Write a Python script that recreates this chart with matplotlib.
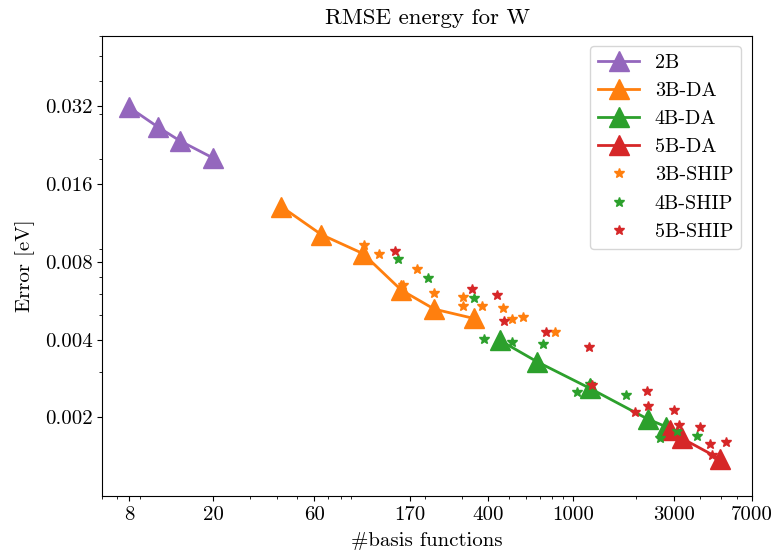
import numpy as np
import matplotlib
matplotlib.use('Agg')
import matplotlib.pyplot as plt
from matplotlib.ticker import NullFormatter

# Fonte parecida com LaTeX (Computer Modern)
plt.rcParams['font.family'] = ['cmr10', 'DejaVu Serif']
plt.rcParams['mathtext.fontset'] = 'cm'
plt.rcParams['axes.formatter.use_mathtext'] = True

# Dados
n_2b = [8, 11, 14, 20]
err_2b = [0.0318, 0.0266, 0.0235, 0.0202]

n_3b_da = [42, 65, 102, 155, 222, 342]
err_3b_da = [0.0131, 0.0102, 0.00862, 0.00622, 0.00525, 0.00483]

n_4b_da = [454, 681, 1208, 2264, 2763]
err_4b_da = [0.00397, 0.00328, 0.00259, 0.00197, 0.00184]

n_5b_da = [2885, 3279, 4974]
err_5b_da = [0.00179, 0.00166, 0.00138]

n_3b_ship = [103, 122, 183, 158, 222, 302, 302, 374, 467, 519, 585, 826]
err_3b_ship = [0.00934, 0.00862, 0.00754, 0.0065, 0.00607, 0.00586,
               0.00538, 0.00538, 0.00532, 0.00479, 0.00488, 0.00427]

n_4b_ship = [150, 208, 340, 379, 519, 727, 1049, 1208, 1782, 2588, 3097, 3885]
err_4b_ship = [0.00819, 0.00696, 0.00579, 0.00404, 0.00392, 0.00384,
               0.00251, 0.0027, 0.00245, 0.00167, 0.00177, 0.00169]

n_5b_ship = [145, 335, 438, 475, 749, 1195, 1239, 2235, 2271, 1972,
             3000, 3193, 4014, 4475, 5307, 4544]
err_5b_ship = [0.00884, 0.00627, 0.00595, 0.00474, 0.00427, 0.00375,
               0.00267, 0.00253, 0.00221, 0.00209, 0.00213, 0.00187,
               0.00184, 0.00158, 0.00160, 0.00143]

x_ticks = [8, 20, 60, 170, 400, 1000, 3000, 7000]
y_ticks = [0.002, 0.004, 0.008, 0.016, 0.032]

fig = plt.figure(figsize=(7.73, 5.56), dpi=100)
ax = fig.add_axes([0.1326, 0.1079, 0.8396, 0.8281])

# Curvas DA (triângulos ligados por linhas)
tri = dict(marker='^', markersize=14.5, linewidth=2)
ax.plot(n_2b, err_2b, color='tab:purple', label='2B', **tri)
ax.plot(n_3b_da, err_3b_da, color='tab:orange', label='3B-DA', **tri)
ax.plot(n_4b_da, err_4b_da, color='tab:green', label='4B-DA', **tri)
ax.plot(n_5b_da, err_5b_da, color='tab:red', label='5B-DA', **tri)

# Pontos SHIP (estrelas)
star = dict(marker='*', markersize=7.5, linestyle='none')
ax.plot(n_3b_ship, err_3b_ship, color='tab:orange', label='3B-SHIP', **star)
ax.plot(n_4b_ship, err_4b_ship, color='tab:green', label='4B-SHIP', **star)
ax.plot(n_5b_ship, err_5b_ship, color='tab:red', label='5B-SHIP', **star)

ax.set_xscale('log')
ax.set_yscale('log')
ax.set_xlim(6, 7000)
ax.set_ylim(0.000992, 0.0602)

ax.set_xticks(x_ticks)
ax.set_xticklabels([str(t) for t in x_ticks])
ax.set_yticks(y_ticks)
ax.set_yticklabels([str(t) for t in y_ticks])
ax.xaxis.set_minor_formatter(NullFormatter())
ax.yaxis.set_minor_formatter(NullFormatter())
ax.tick_params(labelsize=15)

ax.set_xlabel('#basis functions', fontsize=15, labelpad=6)
ax.set_ylabel('Error [eV]', fontsize=15, labelpad=7)
ax.set_title('RMSE energy for W', fontsize=16.5, pad=8)

ax.legend(loc='upper right', fontsize=14.5)

fig.savefig('out.png', dpi=100)
